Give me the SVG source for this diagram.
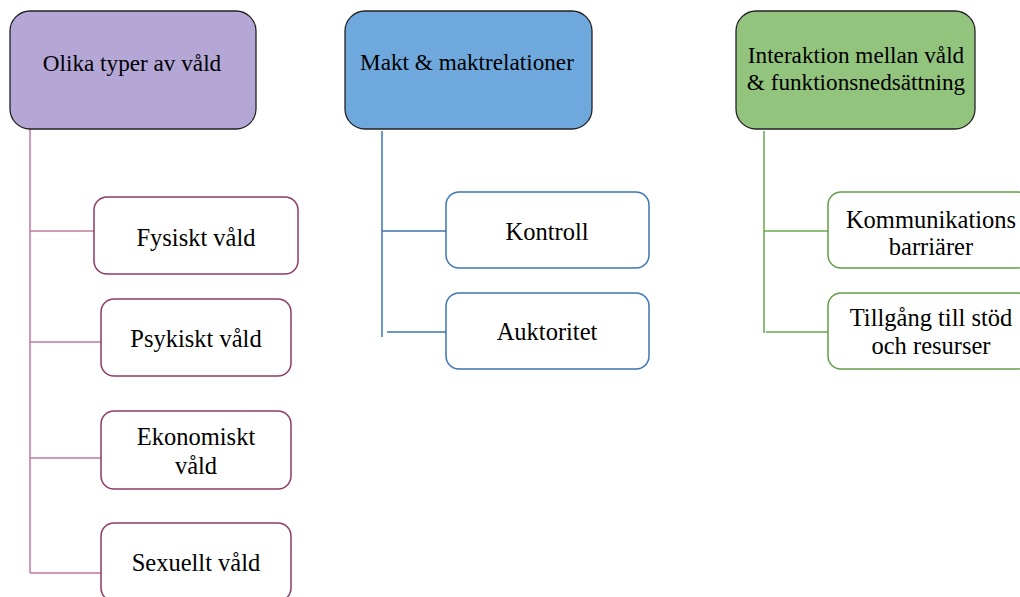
<svg xmlns="http://www.w3.org/2000/svg" width="1020" height="597" viewBox="0 0 1020 597">
<style>
text{font-family:"Liberation Serif","Times New Roman",serif;font-size:24.5px;fill:#000;text-anchor:middle}
.hdr{stroke:#222;stroke-width:1.3}
.ht{font-size:23.2px}
.child{fill:#fff;stroke-width:1.5}
.p{stroke:#8E3B66}.b{stroke:#3C76B2}.g{stroke:#629F48}
.lp{stroke:#C27BA0;fill:none;stroke-width:1.5}
.lb{stroke:#3C76B2;fill:none;stroke-width:1.5}
.lg{stroke:#6AA84F;fill:none;stroke-width:1.5}
</style>
<rect width="1020" height="597" fill="#fff"/>
<g id="connectors">
<path class="lp" d="M30 129V573M30 231H94M30 342H101M30 458H101M30 573H101"/>
<path class="lb" d="M382 131V337M382 231H446M387 332H446"/>
<path class="lg" d="M764 131V333M764 231H828M766 332H828"/>
</g>
<g id="n-olika"><rect class="hdr" x="10" y="11" width="246" height="118" rx="20" fill="#B4A7D6"/><text class="ht" x="132" y="71">Olika typer av våld</text></g>
<g id="n-makt"><rect class="hdr" x="345" y="11" width="247" height="118" rx="20" fill="#6FA8DC"/><text class="ht" x="467" y="70">Makt &amp; maktrelationer</text></g>
<g id="n-interaktion"><rect class="hdr" x="736" y="11" width="239" height="118" rx="20" fill="#93C47D"/><text class="ht" x="856" y="63">Interaktion mellan våld</text><text class="ht" x="856" y="90">&amp; funktionsnedsättning</text></g>
<g id="n-fysiskt"><rect class="child p" x="94" y="197" width="204" height="77" rx="13"/><text x="196" y="246">Fysiskt våld</text></g>
<g id="n-psykiskt"><rect class="child p" x="101" y="299" width="190" height="77" rx="13"/><text x="196" y="347">Psykiskt våld</text></g>
<g id="n-ekonomiskt"><rect class="child p" x="101" y="411" width="190" height="78" rx="13"/><text x="196" y="445">Ekonomiskt</text><text x="196" y="474">våld</text></g>
<g id="n-sexuellt"><rect class="child p" x="101" y="523" width="190" height="78" rx="13"/><text x="196" y="571">Sexuellt våld</text></g>
<g id="n-kontroll"><rect class="child b" x="446" y="192" width="203" height="76" rx="13"/><text x="547" y="240">Kontroll</text></g>
<g id="n-auktoritet"><rect class="child b" x="446" y="293" width="203" height="76" rx="13"/><text x="547" y="340">Auktoritet</text></g>
<g id="n-kommunikation"><rect class="child g" x="828" y="192" width="203" height="76" rx="13"/><text x="931" y="228">Kommunikations</text><text x="931" y="255">barriärer</text></g>
<g id="n-tillgang"><rect class="child g" x="828" y="293" width="203" height="76" rx="13"/><text x="931" y="326">Tillgång till stöd</text><text x="931" y="354">och resurser</text></g>
</svg>
